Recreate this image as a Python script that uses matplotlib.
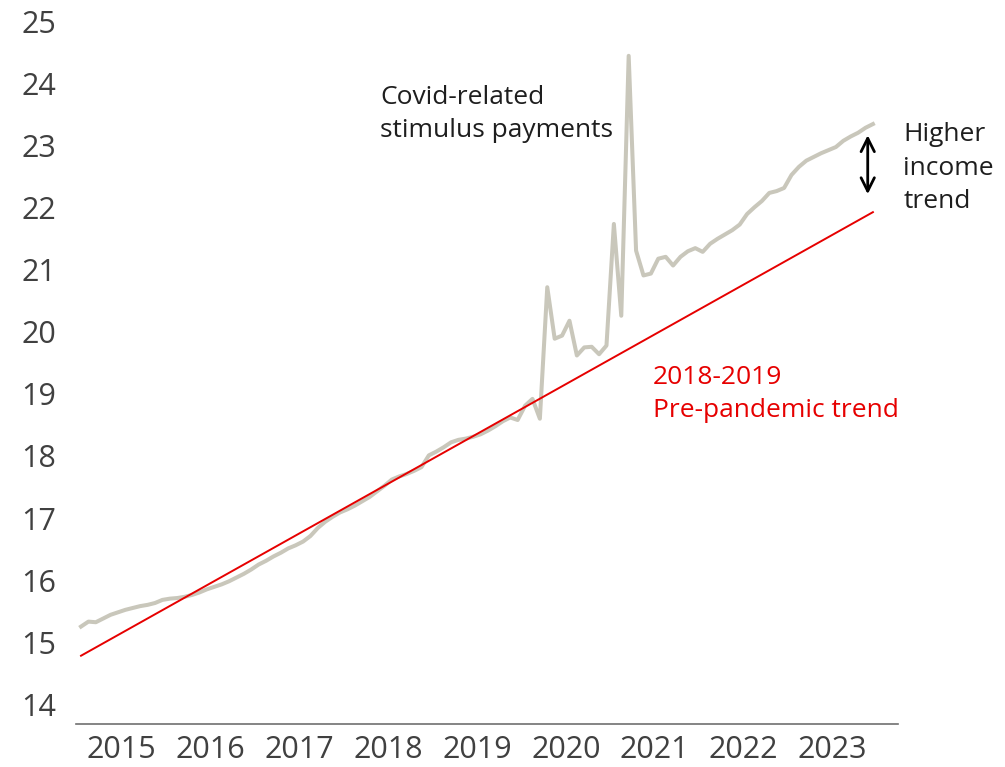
import numpy as np
import matplotlib
matplotlib.use("Agg")
import matplotlib.pyplot as plt

plt.rcParams['font.family'] = ['Open Sans', 'DejaVu Sans']

# monthly values, Jan 2015 .. Dec 2023
income = [
    15.25, 15.33, 15.32, 15.38, 15.44, 15.48, 15.52, 15.55, 15.58, 15.60, 15.63, 15.68,
    15.70, 15.71, 15.73, 15.76, 15.80, 15.85, 15.89, 15.93, 15.98, 16.04, 16.10, 16.17,
    16.25, 16.31, 16.38, 16.44, 16.51, 16.56, 16.62, 16.71, 16.84, 16.94, 17.02, 17.09,
    17.14, 17.20, 17.27, 17.34, 17.43, 17.52, 17.62, 17.67, 17.71, 17.76, 17.82, 18.01,
    18.07, 18.14, 18.22, 18.26, 18.28, 18.31, 18.35, 18.41, 18.48, 18.56, 18.62, 18.58,
    18.81, 18.92, 18.60, 20.72, 19.89, 19.94, 20.18, 19.62, 19.75, 19.76, 19.64, 19.78,
    21.74, 20.26, 24.45, 21.31, 20.91, 20.94, 21.18, 21.21, 21.07, 21.21, 21.30, 21.35,
    21.29, 21.42, 21.50, 21.57, 21.64, 21.73, 21.90, 22.01, 22.11, 22.24, 22.27, 22.32,
    22.53, 22.66, 22.76, 22.82, 22.88, 22.93, 22.98, 23.08, 23.15, 23.21, 23.29, 23.35,
]
trend_start = 14.78
trend_end = 21.93
years = ['2015', '2016', '2017', '2018', '2019', '2020', '2021', '2022', '2023']
yticks = [14, 15, 16, 17, 18, 19, 20, 21, 22, 23, 24, 25]

x = np.arange(len(income))

fig = plt.figure(figsize=(10.05, 7.67), dpi=100)
ax = fig.add_axes([0.0756, 0.0561, 0.818, 0.9156])

ax.plot(x, income, color='#c9c7bb', linewidth=2.9, solid_joinstyle='round', zorder=2)
ax.plot([x[0], x[-1]], [trend_start, trend_end], color='#e60000', linewidth=1.4, zorder=3)

ax.set_xlim(-0.68, 110.4)
ax.set_ylim(13.68, 25.0)

ax.set_yticks(yticks)
ax.set_yticklabels([str(v) for v in yticks])
ax.set_xticks([12 * k + 5.5 for k in range(len(years))])
ax.set_xticklabels(years)
ax.tick_params(axis='both', length=0, labelsize=22, labelcolor='#404040')
ax.tick_params(axis='y', pad=14)
ax.tick_params(axis='x', pad=8)

for s in ['top', 'right', 'left']:
    ax.spines[s].set_visible(False)
ax.spines['bottom'].set_color('#707070')
ax.spines['bottom'].set_linewidth(1.2)

ax.text(40.4, 23.51, 'Covid-related\nstimulus payments', fontsize=19,
        color='#1e1e1e', ha='left', va='center', linespacing=1.45)
ax.text(77.3, 19.0, '2018-2019\nPre-pandemic trend', fontsize=19,
        color='#e60000', ha='left', va='center', linespacing=1.45)
ax.text(111.1, 22.64, 'Higher\nincome\ntrend', fontsize=19,
        color='#1e1e1e', ha='left', va='center', linespacing=1.45, clip_on=False)

ax.annotate('', xy=(106.3, 23.17), xytext=(106.3, 22.22),
            arrowprops=dict(arrowstyle='<->', color='black', lw=2.0,
                            mutation_scale=24, shrinkA=0, shrinkB=0))

fig.savefig('out.png', dpi=100)
